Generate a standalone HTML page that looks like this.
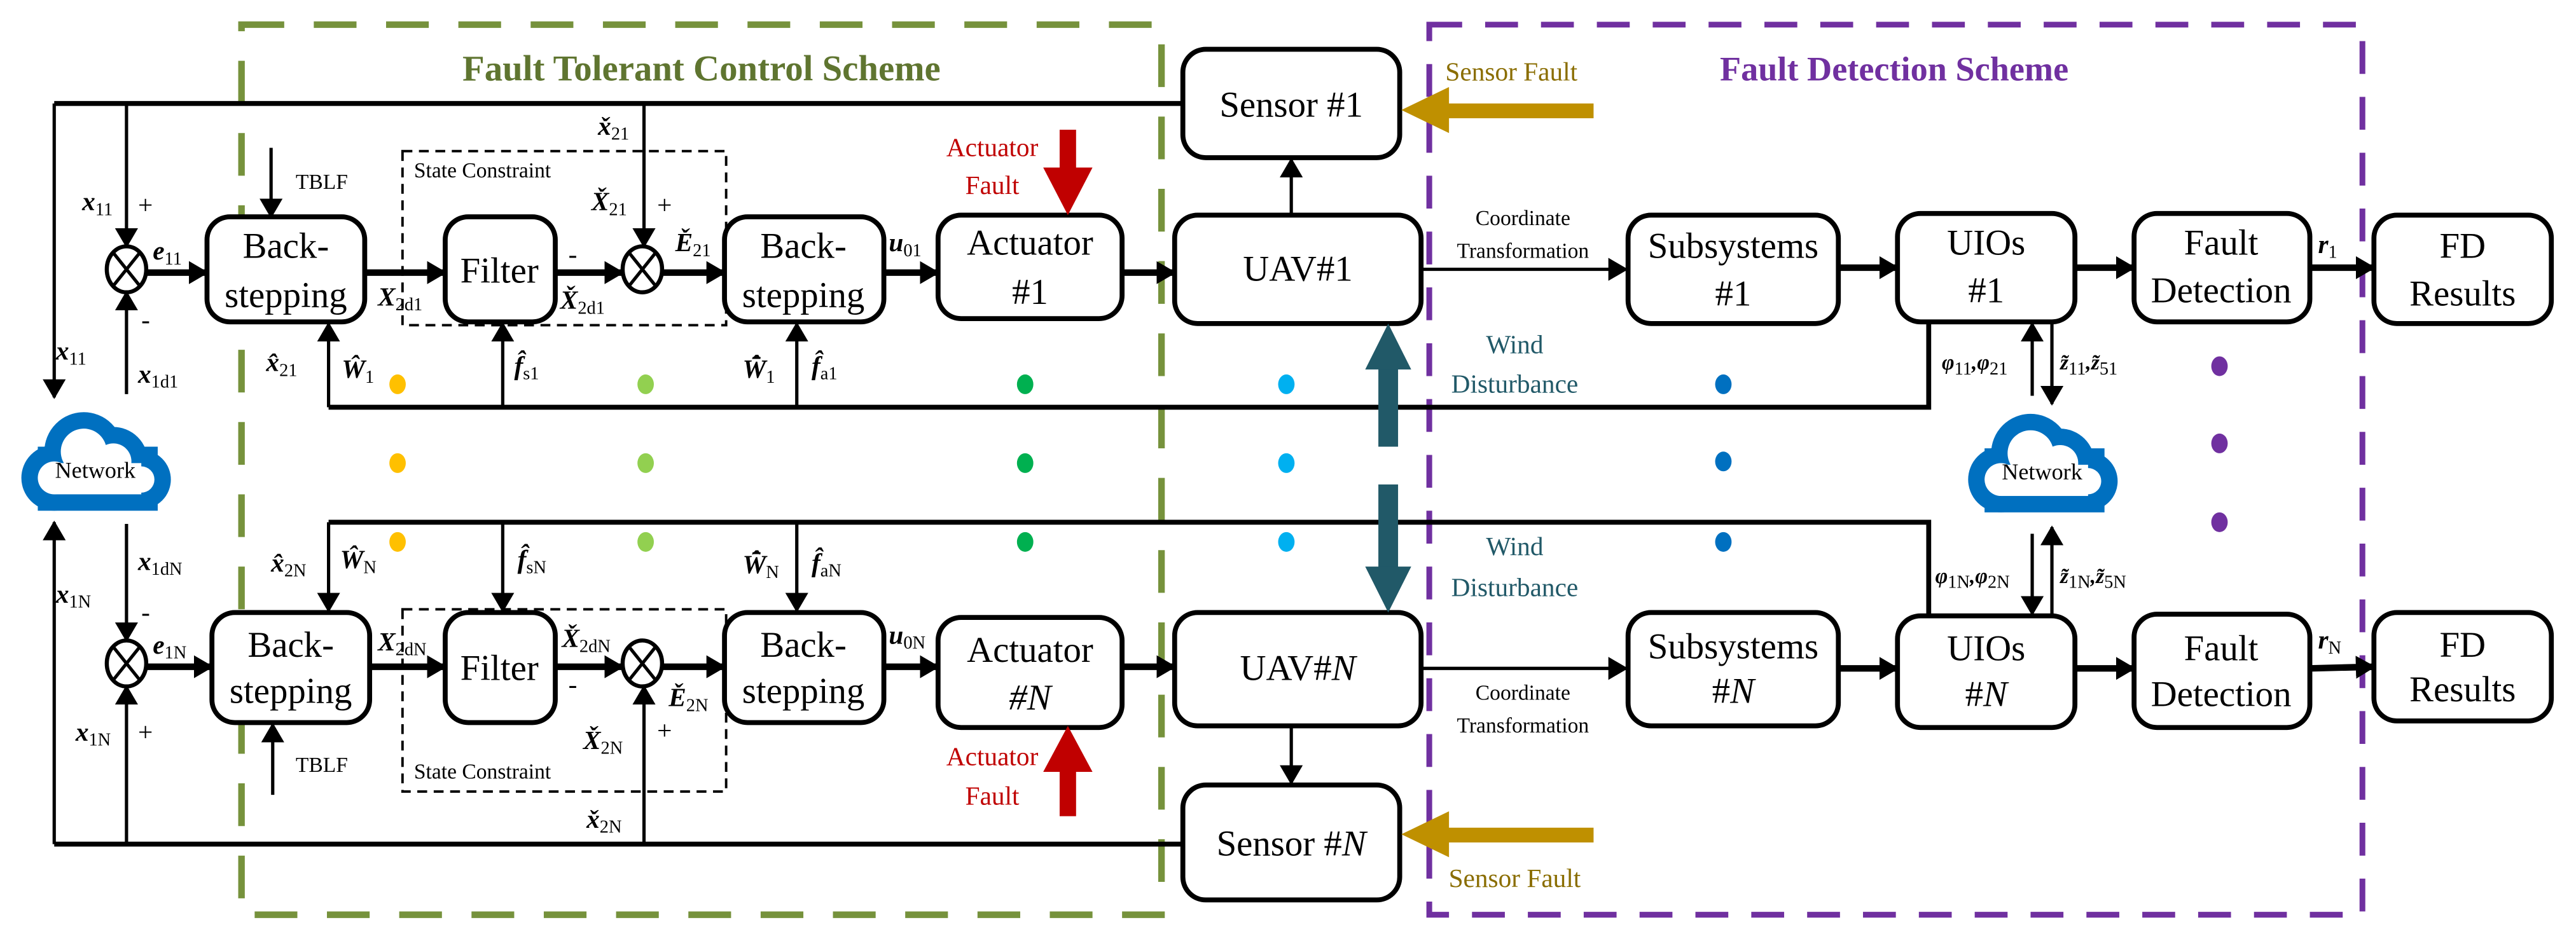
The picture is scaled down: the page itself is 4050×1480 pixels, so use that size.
<!DOCTYPE html>
<html><head><meta charset="utf-8"><style>
html,body{margin:0;padding:0;background:#fff}
svg{display:block}
text{font-family:"Liberation Serif",serif}
.b{font-size:22px}
.m{font-size:16px;font-weight:bold;font-style:italic}
.s{font-size:11px;font-style:normal;font-weight:normal}
.sm{font-size:13px}
</style></head><body>
<svg width="4050" height="1480" viewBox="0 0 1568 573" xmlns="http://www.w3.org/2000/svg">
<defs>
<marker id="A" markerWidth="12" markerHeight="14" refX="11" refY="7" orient="auto" markerUnits="userSpaceOnUse"><path d="M0,0 L12,7 L0,14 z" fill="#000"/></marker>
<g id="cloud">
<g fill="none" stroke="#0070c0" stroke-width="20">
<circle cx="40" cy="26" r="14"/><circle cx="58" cy="32" r="11"/><circle cx="22" cy="42" r="10"/><circle cx="75" cy="43" r="8"/><rect x="22" y="33" width="53" height="19"/>
</g>
<g fill="#fff">
<circle cx="40" cy="26" r="14"/><circle cx="58" cy="32" r="11"/><circle cx="22" cy="42" r="10"/><circle cx="75" cy="43" r="8"/><rect x="22" y="33" width="53" height="19"/>
</g>
<text x="47" y="42" font-size="14" text-anchor="middle">Network</text>
</g>
</defs>

<rect x="147" y="15" width="560" height="542" fill="none" stroke="#76923c" stroke-width="4" stroke-dasharray="26,18"/>
<rect x="870" y="15" width="568" height="542" fill="none" stroke="#7030a0" stroke-width="3.5" stroke-dasharray="20,14"/>
<text x="427" y="49" font-size="22" font-weight="bold" fill="#5f7530" text-anchor="middle">Fault Tolerant Control Scheme</text>
<text x="1153" y="49" font-size="21" font-weight="bold" fill="#7030a0" text-anchor="middle">Fault Detection Scheme</text>

<rect x="245" y="92" width="197" height="106" fill="none" stroke="#000" stroke-width="1.5" stroke-dasharray="6,4"/>
<rect x="245" y="371" width="197" height="111" fill="none" stroke="#000" stroke-width="1.5" stroke-dasharray="6,4"/>
<text x="252" y="108" class="sm">State Constraint</text>
<text x="252" y="474" class="sm">State Constraint</text>

<g fill="#fff" stroke="#000" stroke-width="3">
<rect x="720" y="30" width="132" height="66" rx="14"/>
<rect x="720" y="478" width="132" height="70" rx="14"/>
<rect x="715" y="131" width="150" height="66" rx="14"/>
<rect x="715" y="373" width="150" height="69" rx="14"/>
<rect x="126" y="132" width="96" height="64" rx="14"/>
<rect x="271" y="132" width="67" height="64" rx="14"/>
<rect x="441" y="132" width="97" height="64" rx="14"/>
<rect x="571" y="131" width="112" height="63" rx="14"/>
<rect x="129" y="373" width="96" height="67" rx="14"/>
<rect x="271" y="373" width="67" height="67" rx="14"/>
<rect x="441" y="373" width="97" height="67" rx="14"/>
<rect x="571" y="376" width="112" height="67" rx="14"/>
<rect x="991" y="131" width="128" height="66" rx="14"/>
<rect x="1155" y="130" width="108" height="66" rx="14"/>
<rect x="1299" y="130" width="107" height="66" rx="14"/>
<rect x="1445" y="131" width="108" height="66" rx="14"/>
<rect x="991" y="373" width="128" height="69" rx="14"/>
<rect x="1155" y="375" width="108" height="68" rx="14"/>
<rect x="1299" y="374" width="107" height="69" rx="14"/>
<rect x="1445" y="373" width="108" height="66" rx="14"/>
</g>

<g class="b" text-anchor="middle">
<text x="786" y="71">Sensor #1</text>
<text x="786" y="521">Sensor #<tspan font-style="italic">N</tspan></text>
<text x="790" y="171">UAV#1</text>
<text x="790" y="414">UAV#<tspan font-style="italic">N</tspan></text>
<text x="174" y="157">Back-</text><text x="174" y="187">stepping</text>
<text x="304" y="172">Filter</text>
<text x="489" y="157">Back-</text><text x="489" y="187">stepping</text>
<text x="627" y="155">Actuator</text><text x="627" y="185">#1</text>
<text x="177" y="400">Back-</text><text x="177" y="428">stepping</text>
<text x="304" y="414">Filter</text>
<text x="489" y="400">Back-</text><text x="489" y="428">stepping</text>
<text x="627" y="403">Actuator</text><text x="627" y="432" font-style="italic">#N</text>
<text x="1055" y="157">Subsystems</text><text x="1055" y="186">#1</text>
<text x="1209" y="155">UIOs</text><text x="1209" y="184">#1</text>
<text x="1352" y="155">Fault</text><text x="1352" y="184">Detection</text>
<text x="1499" y="157">FD</text><text x="1499" y="186">Results</text>
<text x="1055" y="401">Subsystems</text><text x="1055" y="428">#<tspan font-style="italic">N</tspan></text>
<text x="1209" y="402">UIOs</text><text x="1209" y="430">#<tspan font-style="italic">N</tspan></text>
<text x="1352" y="402">Fault</text><text x="1352" y="430">Detection</text>
<text x="1499" y="400">FD</text><text x="1499" y="427">Results</text>
</g>

<g fill="#fff" stroke="#000" stroke-width="2.5">
<ellipse cx="77" cy="164" rx="12" ry="14"/><ellipse cx="391" cy="164" rx="12" ry="14"/>
<ellipse cx="77" cy="404" rx="12" ry="14"/><ellipse cx="391" cy="404" rx="12" ry="14"/>
</g>
<g stroke="#000" stroke-width="2">
<path d="M69,154 L85,174 M85,154 L69,174 M383,154 L399,174 M399,154 L383,174 M69,394 L85,414 M85,394 L69,414 M383,394 L399,414 M399,394 L383,414"/>
</g>

<g fill="none" stroke="#000" stroke-width="3">
<path d="M720,63 L33,63"/><path d="M720,514 L33,514"/>
<path d="M200,248 L1174,248 L1174,197"/><path d="M200,318 L1174,318 L1174,374"/>
</g>
<g fill="none" stroke="#000" stroke-width="2" marker-end="url(#A)">
<path d="M33,63 L33,242"/><path d="M33,514 L33,318"/>
<path d="M77,63 L77,150"/><path d="M392,63 L392,150"/>
<path d="M77,240 L77,178"/><path d="M77,319 L77,390"/>
<path d="M77,514 L77,418"/><path d="M392,514 L392,418"/>
<path d="M165,90 L165,132"/><path d="M166,484 L166,441"/>
<path d="M200,248 L200,197"/><path d="M306,248 L306,197"/><path d="M485,248 L485,197"/>
<path d="M200,318 L200,372"/><path d="M306,318 L306,372"/><path d="M485,318 L485,372"/>
<path d="M786,131 L786,97"/><path d="M786,442 L786,477"/>
<path d="M865,164 L990,164"/><path d="M865,407 L990,407"/>
<path d="M1237,241 L1237,197"/><path d="M1249,197 L1249,246"/>
<path d="M1237,325 L1237,374"/><path d="M1249,374 L1249,321"/>
</g>
<g fill="none" stroke="#000" stroke-width="4" marker-end="url(#A)">
<path d="M89,166 L126,166"/><path d="M222,166 L271,166"/><path d="M338,166 L379,166"/><path d="M403,166 L441,166"/><path d="M538,166 L571,166"/><path d="M683,166 L715,166"/>
<path d="M89,406 L129,406"/><path d="M225,406 L271,406"/><path d="M338,406 L379,406"/><path d="M403,406 L441,406"/><path d="M538,406 L571,406"/><path d="M683,406 L715,406"/>
<path d="M1119,163 L1155,163"/><path d="M1263,163 L1299,163"/><path d="M1406,163 L1445,163"/>
<path d="M1119,407 L1155,407"/><path d="M1263,407 L1299,407"/><path d="M1406,407 L1445,406"/>
</g>

<use href="#cloud" x="11" y="249"/>
<use href="#cloud" x="1196" y="250"/>

<g fill="#c00000">
<rect x="645" y="79" width="10" height="24"/><path d="M635,102 L665,102 L650,131 z"/>
<rect x="645" y="469" width="10" height="28"/><path d="M635,470 L665,470 L650,442 z"/>
</g>
<text x="604" y="95" font-size="16" fill="#c00000" text-anchor="middle">Actuator</text>
<text x="604" y="118" font-size="16" fill="#c00000" text-anchor="middle">Fault</text>
<text x="604" y="466" font-size="16" fill="#c00000" text-anchor="middle">Actuator</text>
<text x="604" y="490" font-size="16" fill="#c00000" text-anchor="middle">Fault</text>
<g fill="#bf9000">
<rect x="880" y="63" width="90" height="9"/><path d="M882,53 L882,81 L853,67 z"/>
<rect x="880" y="504" width="90" height="9"/><path d="M882,494 L882,522 L853,508 z"/>
</g>
<text x="920" y="49" font-size="16" fill="#8a6d00" text-anchor="middle">Sensor Fault</text>
<text x="922" y="540" font-size="16" fill="#8a6d00" text-anchor="middle">Sensor Fault</text>
<g fill="#215968">
<rect x="839" y="224" width="12" height="48"/><path d="M831,225 L859,225 L845,197 z"/>
<rect x="839" y="295" width="12" height="51"/><path d="M831,345 L859,345 L845,373 z"/>
</g>
<g font-size="16" fill="#215968" text-anchor="middle">
<text x="922" y="215">Wind</text><text x="922" y="239">Disturbance</text>
<text x="922" y="338">Wind</text><text x="922" y="363">Disturbance</text>
</g>
<g font-size="13" text-anchor="middle">
<text x="927" y="137">Coordinate</text><text x="927" y="157">Transformation</text>
<text x="927" y="426">Coordinate</text><text x="927" y="446">Transformation</text>
</g>
<text x="180" y="115" class="sm">TBLF</text>
<text x="180" y="470" class="sm">TBLF</text>

<g>
<g fill="#ffc000"><ellipse cx="242" cy="234" rx="5" ry="6"/><ellipse cx="242" cy="282" rx="5" ry="6"/><ellipse cx="242" cy="330" rx="5" ry="6"/></g>
<g fill="#92d050"><ellipse cx="393" cy="234" rx="5" ry="6"/><ellipse cx="393" cy="282" rx="5" ry="6"/><ellipse cx="393" cy="330" rx="5" ry="6"/></g>
<g fill="#00b050"><ellipse cx="624" cy="234" rx="5" ry="6"/><ellipse cx="624" cy="282" rx="5" ry="6"/><ellipse cx="624" cy="330" rx="5" ry="6"/></g>
<g fill="#00b0f0"><ellipse cx="783" cy="234" rx="5" ry="6"/><ellipse cx="783" cy="282" rx="5" ry="6"/><ellipse cx="783" cy="330" rx="5" ry="6"/></g>
<g fill="#0070c0"><ellipse cx="1049" cy="234" rx="5" ry="6"/><ellipse cx="1049" cy="281" rx="5" ry="6"/><ellipse cx="1049" cy="330" rx="5" ry="6"/></g>
<g fill="#7030a0"><ellipse cx="1351" cy="223" rx="5" ry="6"/><ellipse cx="1351" cy="270" rx="5" ry="6"/><ellipse cx="1351" cy="318" rx="5" ry="6"/></g>
</g>

<g class="m">
<text x="50" y="128">x<tspan class="s" dy="3">11</tspan></text>
<text x="84" y="130" font-weight="normal" font-style="normal">+</text>
<text x="93" y="158">e<tspan class="s" dy="3">11</tspan></text>
<text x="86" y="200" font-weight="normal" font-style="normal">-</text>
<text x="34" y="219">x<tspan class="s" dy="3">11</tspan></text>
<text x="84" y="233">x<tspan class="s" dy="3">1d1</tspan></text>
<text x="364" y="82">x̌<tspan class="s" dy="3">21</tspan></text>
<text x="360" y="128">X̌<tspan class="s" dy="3">21</tspan></text>
<text x="400" y="130" font-weight="normal" font-style="normal">+</text>
<text x="411" y="153">Ě<tspan class="s" dy="3">21</tspan></text>
<text x="230" y="186">X<tspan class="s" dy="3">2d1</tspan></text>
<text x="346" y="160" font-weight="normal" font-style="normal">-</text>
<text x="341" y="188">X̌<tspan class="s" dy="3">2d1</tspan></text>
<text x="541" y="153">u<tspan class="s" dy="3">01</tspan></text>
<text x="162" y="226">x̂<tspan class="s" dy="3">21</tspan></text>
<text x="208" y="230">Ŵ<tspan class="s" dy="3">1</tspan></text>
<text x="313" y="228">f̂<tspan class="s" dy="3">s1</tspan></text>
<text x="452" y="230">W̄̂<tspan class="s" dy="3">1</tspan></text>
<text x="494" y="228">f̂<tspan class="s" dy="3">a1</tspan></text>

<text x="84" y="347">x<tspan class="s" dy="3">1dN</tspan></text>
<text x="34" y="367">x<tspan class="s" dy="3">1N</tspan></text>
<text x="86" y="378" font-weight="normal" font-style="normal">-</text>
<text x="93" y="398">e<tspan class="s" dy="3">1N</tspan></text>
<text x="46" y="451">x<tspan class="s" dy="3">1N</tspan></text>
<text x="84" y="451" font-weight="normal" font-style="normal">+</text>
<text x="165" y="348">x̂<tspan class="s" dy="3">2N</tspan></text>
<text x="207" y="346">Ŵ<tspan class="s" dy="3">N</tspan></text>
<text x="315" y="346">f̂<tspan class="s" dy="3">sN</tspan></text>
<text x="452" y="349">W̄̂<tspan class="s" dy="3">N</tspan></text>
<text x="494" y="348">f̂<tspan class="s" dy="3">aN</tspan></text>
<text x="230" y="396">X<tspan class="s" dy="3">2dN</tspan></text>
<text x="342" y="394">X̌<tspan class="s" dy="3">2dN</tspan></text>
<text x="346" y="422" font-weight="normal" font-style="normal">-</text>
<text x="407" y="430">Ě<tspan class="s" dy="3">2N</tspan></text>
<text x="355" y="456">X̌<tspan class="s" dy="3">2N</tspan></text>
<text x="400" y="450" font-weight="normal" font-style="normal">+</text>
<text x="357" y="504">x̌<tspan class="s" dy="3">2N</tspan></text>
<text x="541" y="392">u<tspan class="s" dy="3">0N</tspan></text>

<text x="1411" y="154">r<tspan class="s" dy="3">1</tspan></text>
<text x="1411" y="395">r<tspan class="s" dy="3">N</tspan></text>
<text x="1182" y="225" font-size="13">φ<tspan class="s" dy="3">11</tspan><tspan dy="-3">,φ</tspan><tspan class="s" dy="3">21</tspan></text>
<text x="1254" y="225" font-size="13">z̃<tspan class="s" dy="3">11</tspan><tspan dy="-3">,z̃</tspan><tspan class="s" dy="3">51</tspan></text>
<text x="1178" y="355" font-size="13">φ<tspan class="s" dy="3">1N</tspan><tspan dy="-3">,φ</tspan><tspan class="s" dy="3">2N</tspan></text>
<text x="1254" y="355" font-size="13">z̃<tspan class="s" dy="3">1N</tspan><tspan dy="-3">,z̃</tspan><tspan class="s" dy="3">5N</tspan></text>
</g>
</svg>
</body></html>
